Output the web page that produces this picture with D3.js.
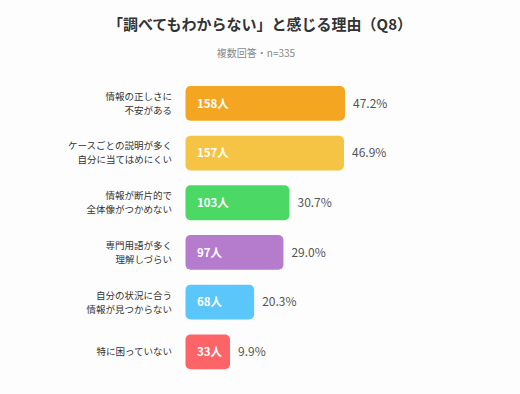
<!DOCTYPE html>
<html>
<head>
<meta charset="utf-8">
<script src="https://cdn.jsdelivr.net/npm/d3@7"></script>
<style>
  body { margin: 0; background: #fdfdfd; }
  svg { display: block; font-family: "Noto Sans CJK JP", "Noto Sans", sans-serif; }
</style>
</head>
<body>
<div id="chart"></div>
<script>
// Reasons data (Q8, multiple answers, n=335)
const reasons = [
  ["情報の正しさに", "不安がある"],
  ["ケースごとの説明が多く", "自分に当てはめにくい"],
  ["情報が断片的で", "全体像がつかめない"],
  ["専門用語が多く", "理解しづらい"],
  ["自分の状況に合う", "情報が見つからない"],
  ["特に困っていない"]
];
const counts = [158, 157, 103, 97, 68, 33];
const percents = ["47.2%", "46.9%", "30.7%", "29.0%", "20.3%", "9.9%"];
const colors = ["#f4a622", "#f6c445", "#4cd864", "#b57bcd", "#5bc6f9", "#fc6468"];

const width = 520;
const height = 394;
const svg = d3.select('#chart')
  .append('svg')
    .attr('width', width)
    .attr('height', height);

// Title and subtitle
svg.append('text')
    .attr('x', 260)
    .attr('y', 30)
    .attr('text-anchor', 'middle')
    .attr('font-size', 15)
    .attr('font-weight', 'bold')
    .attr('fill', '#333')
    .text('「調べてもわからない」と感じる理由（Q8）');

svg.append('text')
    .attr('x', 256)
    .attr('y', 57)
    .attr('text-anchor', 'middle')
    .attr('font-size', 10)
    .attr('fill', '#888')
    .text('複数回答・n=335');

// Scales
const barLeft = 185.5;
const x = d3.scaleLinear()
    .domain([0, 158])
    .range([0, 159.5]);
const minBar = 44.5; // short bars keep room for their label

const y = d3.scaleBand()
    .domain(d3.range(counts.length))
    .range([86, 86 + 47.2 * counts.length])
    .paddingInner(0.3)
    .paddingOuter(0);

const rows = svg.selectAll('.row')
  .data(counts)
  .join('g')
    .attr('class', 'row')
    .attr('transform', (d, i) => `translate(0, ${y(i)})`);

const barW = d => Math.max(minBar, x(d));
const bh = y.bandwidth();

rows.append('rect')
    .attr('x', barLeft)
    .attr('y', 0)
    .attr('width', barW)
    .attr('height', bh)
    .attr('rx', 5)
    .attr('fill', (d, i) => colors[i]);

// Counts inside the bars
rows.append('text')
    .attr('x', barLeft + 11.5)
    .attr('y', bh / 2)
    .attr('dy', '0.36em')
    .attr('font-size', 11.5)
    .attr('font-weight', 'bold')
    .attr('fill', '#fff')
    .text(d => d + '人');

// Percent labels after the bars
rows.append('text')
    .attr('x', d => barLeft + barW(d) + 8)
    .attr('y', bh / 2)
    .attr('dy', '0.36em')
    .attr('font-size', 12)
    .attr('fill', '#555')
    .text((d, i) => percents[i]);

// Category labels, right aligned
rows.append('text')
    .attr('x', 172)
    .attr('y', bh / 2)
    .attr('text-anchor', 'end')
    .attr('font-size', 9.5)
    .attr('fill', '#333')
    .each(function(d, i) {
      const lines = reasons[i];
      const t = d3.select(this);
      lines.forEach((line, j) => {
        t.append('tspan')
          .attr('x', 172)
          .attr('dy', j === 0 ? (0.36 * 9.5 - (lines.length - 1) * 7) : 14)
          .text(line);
      });
    });
</script>
</body>
</html>
